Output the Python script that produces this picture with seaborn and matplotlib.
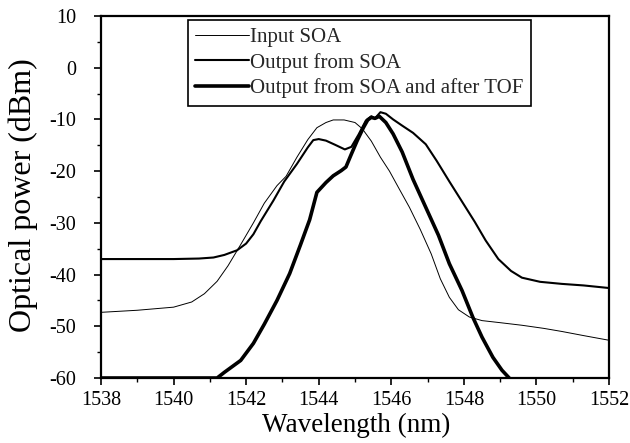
import numpy as np
import pandas as pd
import matplotlib
matplotlib.use("Agg")
import matplotlib.pyplot as plt
from matplotlib.ticker import MultipleLocator
import seaborn as sns

# Spectra: wavelength (nm) and optical power (dBm)
input_wl = [1538.0, 1539.0, 1540.0, 1540.5, 1540.85, 1541.2, 1541.5, 1541.85, 1542.2,
            1542.5, 1542.85, 1543.1, 1543.4, 1543.7, 1543.95, 1544.2, 1544.4, 1544.7,
            1545.0, 1545.2, 1545.45, 1545.7, 1545.95, 1546.2, 1546.5, 1546.8, 1547.1,
            1547.35, 1547.6, 1547.85, 1548.15, 1548.5, 1549.0, 1549.6, 1550.2, 1550.7,
            1551.3, 1552.0]
input_db = [-47.3, -46.9, -46.3, -45.3, -43.7, -41.3, -38.3, -34.2, -30.0,
            -26.2, -22.8, -21.0, -17.3, -13.9, -11.6, -10.6, -10.1, -10.1,
            -10.6, -11.8, -14.2, -17.3, -20.0, -23.2, -27.0, -31.3, -36.0,
            -40.8, -44.4, -46.8, -48.2, -48.9, -49.3, -49.8, -50.4, -51.0,
            -51.8, -52.7]

output_wl = [1538.0, 1539.0, 1540.0, 1540.7, 1541.1, 1541.4, 1541.75, 1542.0, 1542.2,
             1542.4, 1542.75, 1543.05, 1543.4, 1543.7, 1543.85, 1544.0, 1544.2, 1544.45,
             1544.72, 1544.9, 1545.1, 1545.3, 1545.45, 1545.55, 1545.7, 1545.85, 1546.05,
             1546.3, 1546.6, 1546.95, 1547.25, 1547.6, 1547.95, 1548.3, 1548.6, 1548.95,
             1549.3, 1549.6, 1550.1, 1550.7, 1551.3, 1552.0]
output_db = [-37.0, -37.0, -37.0, -36.9, -36.7, -36.2, -35.3, -34.0, -32.2,
             -29.7, -25.7, -22.0, -18.6, -15.4, -14.0, -13.8, -14.1, -14.9,
             -15.8, -15.3, -12.9, -10.2, -9.4, -9.8, -8.6, -8.9, -10.0,
             -11.2, -12.6, -14.8, -18.0, -22.0, -25.9, -29.8, -33.4, -37.0,
             -39.3, -40.6, -41.4, -41.8, -42.1, -42.6]

tof_wl = [1538.0, 1541.2, 1541.4, 1541.85, 1542.2, 1542.5, 1542.85, 1543.2, 1543.5,
          1543.75, 1543.95, 1544.2, 1544.4, 1544.62, 1544.75, 1544.9, 1545.06, 1545.23,
          1545.35, 1545.45, 1545.55, 1545.67, 1545.85, 1546.05, 1546.3, 1546.6, 1546.95,
          1547.3, 1547.6, 1547.95, 1548.25, 1548.5, 1548.8, 1549.05, 1549.25]
tof_db = [-60.0, -60.0, -58.9, -56.6, -53.3, -49.6, -45.0, -39.8, -34.2,
          -29.4, -24.1, -22.2, -20.9, -19.9, -19.2, -16.7, -14.1, -11.6,
          -10.1, -9.6, -9.8, -9.4, -10.6, -12.8, -16.3, -21.6, -27.0,
          -32.4, -37.9, -43.1, -48.3, -52.1, -56.0, -58.5, -60.0]

series_labels = ["Input SOA", "Output from SOA", "Output from SOA and after TOF"]

frames = []
for name, wl, db in zip(series_labels,
                        [input_wl, output_wl, tof_wl],
                        [input_db, output_db, tof_db]):
    frames.append(pd.DataFrame({"Wavelength": wl, "Power": db, "Signal": name}))
data = pd.concat(frames, ignore_index=True)

sns.set_style("ticks")
plt.rcParams["font.family"] = ["Liberation Serif", "DejaVu Serif"]
plt.rcParams["axes.unicode_minus"] = False

fig = plt.figure(figsize=(6.3, 4.43), dpi=100)
ax = fig.add_axes([0.1603, 0.1467, 0.8064, 0.8172])

widths = {"Input SOA": 0.7, "Output from SOA": 1.5, "Output from SOA and after TOF": 2.6}
for name in series_labels:
    sns.lineplot(data=data[data["Signal"] == name], x="Wavelength", y="Power",
                 color="black", linewidth=widths[name], sort=False,
                 estimator=None, label=name, ax=ax)

ax.set_xlim(1538, 1552)
ax.set_ylim(-60, 10)
ax.xaxis.set_major_locator(MultipleLocator(2))
ax.xaxis.set_minor_locator(MultipleLocator(1))
ax.yaxis.set_major_locator(MultipleLocator(10))
ax.yaxis.set_minor_locator(MultipleLocator(5))
ax.tick_params(which="major", direction="out", length=5, width=1.2,
               labelsize=14.5, color="black", labelcolor="black")
ax.tick_params(axis="y", which="major", pad=13)
ax.tick_params(axis="x", which="major", pad=4)
ax.tick_params(which="minor", direction="out", length=3, width=1.0, color="black")
for side in ["left", "right", "top", "bottom"]:
    ax.spines[side].set_visible(True)
    ax.spines[side].set_linewidth(1.6)
    ax.spines[side].set_color("black")

ax.set_xlabel("Wavelength (nm)", fontsize=19.5, color="black")
ax.set_ylabel("Optical power (dBm)", fontsize=23, color="black")
ax.yaxis.set_label_coords(-0.124, 0.506)
ax.xaxis.set_label_coords(0.502, -0.097)

leg = ax.legend(loc="upper left", bbox_to_anchor=(0.171, 0.989, 0.675, 0.0),
                mode="expand", fontsize=15, frameon=True, fancybox=False,
                handlelength=2.6, handletextpad=0.05, labelspacing=0.28,
                borderpad=0.35, borderaxespad=0.0)
leg.get_frame().set_edgecolor("black")
leg.get_frame().set_linewidth(1.2)
leg.get_frame().set_alpha(1)

fig.savefig("out.png", dpi=100)
